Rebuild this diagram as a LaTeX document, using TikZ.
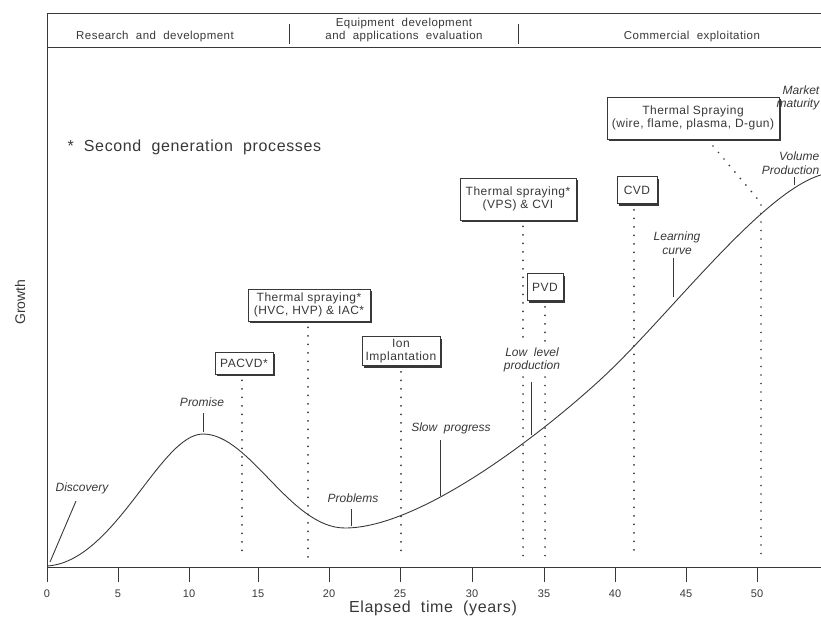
\documentclass[tikz,border=0pt]{standalone}
\usepackage{fontspec}
\setmainfont{Liberation Sans}
\newfontfamily\spsans{Liberation Sans}[LetterSpace=4]
\usetikzlibrary{shadows}
\definecolor{ink}{gray}{0.22}
\begin{document}
\begin{tikzpicture}[x=1pt,y=-1pt,
  axisline/.style={draw=ink, line width=0.8pt},
  curveline/.style={draw=ink, line width=0.9pt},
  dotline/.style={draw=ink, line width=1.9pt, line cap=round, dash pattern=on 0pt off 8.5pt},
  tickline/.style={draw=ink, line width=0.9pt},
  ticklbl/.style={font=\fontsize{11}{12}\selectfont, text=ink, inner sep=0pt},
  hdr/.style={font=\spsans\fontsize{11.5}{13}\selectfont, text=ink, align=center, inner sep=0pt},
  lbl/.style={font=\fontsize{12}{13.5}\selectfont\itshape, text=ink, align=center, inner sep=0.5pt},
  pbox/.style={draw=ink, fill=white, line width=0.7pt, font=\spsans\fontsize{12}{13}\selectfont, text=ink,
     align=center, inner sep=0pt,
     drop shadow={shadow xshift=2pt, shadow yshift=-2pt, fill=ink, opacity=1}}
]
\useasboundingbox (0,0) rectangle (821,621);
\clip (0,0) rectangle (821,621);

% header
\coordinate (htl) at (47,13);
\coordinate (htr) at (830,13);
\coordinate (hbl) at (47,47);
\coordinate (hbr) at (830,47);
\draw[axisline] (htl) -- (htr);
\draw[axisline] (hbl) -- (hbr);
\coordinate (dv1a) at (289,24); \coordinate (dv1b) at (289,44);
\coordinate (dv2a) at (518,24); \coordinate (dv2b) at (518,44);
\draw[axisline] (dv1a) -- (dv1b);
\draw[axisline] (dv2a) -- (dv2b);
\node[hdr] (h1) at (155,37) {Research\ \ and\ \ development};
\node[hdr] (h2) at (404,30) {Equipment\ \ development\\and\ \ applications\ \ evaluation};
\node[hdr] (h3) at (692,37) {Commercial\ \ exploitation};

% axes
\coordinate (org) at (47,567);
\coordinate (xend) at (830,567);
\draw[axisline] (htl) -- (org) -- (xend);

\foreach \v/\px in {0/47,5/118,10/189,15/258,20/329,25/400,30/472,35/544,40/615,45/686,50/757}{
  \coordinate (t\v) at (\px,567);
  \coordinate (tb\v) at (\px,582);
  \draw[tickline] (t\v) -- (tb\v);
  \node[ticklbl] (tl\v) at (\px,594) {\v};
}
\node[font=\spsans\fontsize{16}{18}\selectfont, text=ink] (xlab) at (433,608) {Elapsed\ \ time\ \ (years)};
\node[font=\fontsize{14}{16}\selectfont, text=ink, rotate=90] (ylab) at (20,302) {Growth};
\node[font=\spsans\fontsize{16}{18}\selectfont, text=ink, anchor=west] (note) at (64,147) {*\ \ Second\ \ generation\ \ processes};

% growth curve
\coordinate (c0) at (47,566);
\coordinate (cpk) at (203,434);
\coordinate (cmin) at (345,528);
\coordinate (cmid) at (600,380);
\coordinate (cend) at (830,173);
\draw[curveline] (c0) .. controls (115,562) and (160,434) .. (cpk)
  .. controls (250,434) and (290,528) .. (cmin)
  .. controls (420,528) and (540,435) .. (cmid)
  .. controls (670,316) and (770,180) .. (cend);

% process boxes
\node[pbox, minimum width=58pt, minimum height=22pt] (pacvd) at (244,363) {PACVD*};
\node[pbox, minimum width=122pt, minimum height=32pt] (ts1) at (309,305) {Thermal spraying*\\(HVC, HVP) \& IAC*};
\node[pbox, minimum width=78pt, minimum height=29pt] (ion) at (401,351) {Ion\\Implantation};
\node[pbox, minimum width=116pt, minimum height=42pt] (ts2) at (518,199) {Thermal spraying*\\(VPS) \& CVI};
\node[pbox, minimum width=36pt, minimum height=27pt] (pvd) at (545,287) {PVD};
\node[pbox, minimum width=40pt, minimum height=27pt] (cvd) at (637,190) {CVD};
\node[pbox, minimum width=172pt, minimum height=42pt] (ts3) at (693,118) {Thermal Spraying\\(wire, flame, plasma, D-gun)};

% stage labels with pointers
\node[lbl] (disc) at (82,488) {Discovery};
\coordinate (disca) at (76,501); \coordinate (discb) at (50,562);
\draw[tickline] (disca) -- (discb);

\node[lbl] (prom) at (202,402) {Promise};
\coordinate (proma) at (203,413); \coordinate (promb) at (203,432);
\draw[tickline] (proma) -- (promb);

\node[lbl] (prob) at (353,498) {Problems};
\coordinate (proba) at (351,509); \coordinate (probb) at (351,526);
\draw[tickline] (proba) -- (probb);

\node[lbl] (slow) at (451,428) {Slow\ \ progress};
\coordinate (slowa) at (440,440); \coordinate (slowb) at (440,496);
\draw[tickline] (slowa) -- (slowb);

\node[lbl] (low) at (532,360) {Low\ \ level\\production};
\coordinate (lowa) at (531,382); \coordinate (lowb) at (531,435);
\draw[tickline] (lowa) -- (lowb);

\node[lbl] (learn) at (677,243) {Learning\\curve};
\coordinate (learna) at (673,258); \coordinate (learnb) at (673,297);
\draw[tickline] (learna) -- (learnb);

\node[lbl, align=right, anchor=east] (vol) at (820,163) {Volume\\Production};
\coordinate (vola) at (794,177); \coordinate (volb) at (794,185);
\draw[tickline] (vola) -- (volb);

\node[lbl, align=right, anchor=east] (mkt) at (820,98) {Market\\maturity};

% dotted drop lines
\coordinate (e1) at (242,557);
\coordinate (e2) at (308,557);
\coordinate (e3) at (401,557);
\coordinate (e4) at (523,557);
\coordinate (e5) at (545,557);
\coordinate (e6) at (634,557);
\coordinate (e7) at (761,557);
\coordinate (k7) at (761,203);
\coordinate (s7) at (713,146);
\draw[dotline] ([yshift=-6pt]pacvd.south -| e1) -- (e1);
\draw[dotline] ([yshift=-6pt]ts1.south -| e2) -- (e2);
\draw[dotline] ([yshift=-6pt]ion.south -| e3) -- (e3);
\draw[dotline] ([yshift=-6pt]ts2.south -| e4) -- ([yshift=2pt]low.north -| e4);
\draw[dotline] ([yshift=-4pt]low.south -| e4) -- (e4);
\draw[dotline] ([yshift=-6pt]pvd.south -| e5) -- ([yshift=2pt]low.north -| e5);
\draw[dotline] ([yshift=-4pt]low.south -| e5) -- (e5);
\draw[dotline] ([yshift=-6pt]cvd.south -| e6) -- (e6);
\draw[dotline] (s7) -- (k7) -- (e7);
\end{tikzpicture}
\end{document}
